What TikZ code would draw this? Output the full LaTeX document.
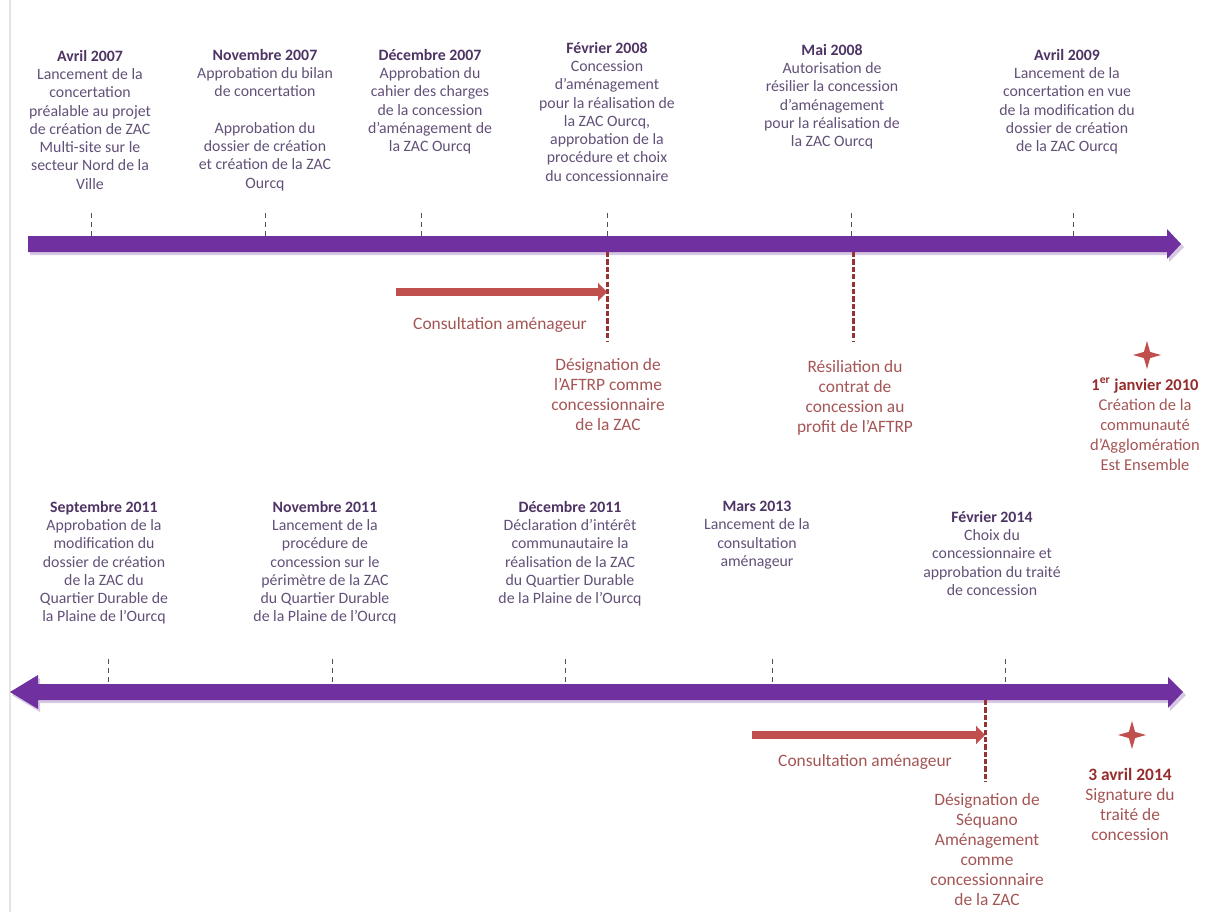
\documentclass[tikz,border=0pt]{standalone}
\usepackage{fontspec}
\setmainfont{Carlito}
\usetikzlibrary{arrows.meta, positioning, shapes.geometric}
\definecolor{tlpurple}{RGB}{112,48,160}
\definecolor{tlshade}{RGB}{214,200,226}
\definecolor{tltitle}{RGB}{78,52,100}
\definecolor{tltext}{RGB}{98,80,120}
\definecolor{tlred}{RGB}{192,80,77}
\definecolor{tldash}{RGB}{150,50,50}
\definecolor{tlredtext}{RGB}{165,85,85}
\definecolor{tlredtitle}{RGB}{150,45,45}
\definecolor{tltick}{RGB}{80,80,90}
\definecolor{tlborder}{RGB}{228,228,228}

\begin{document}
\begin{tikzpicture}[
    x=0.2mm, y=-0.2mm,
    font=\fontsize{9}{10.4}\selectfont,
    % Styles for the two timelines
    event/.style={align=center, text=tltext, inner sep=1pt, anchor=north},
    milestone/.style={align=center, text=tlredtext, inner sep=1pt, anchor=north, font=\fontsize{9.9}{11.4}\selectfont},
    timeline/.style={fill=tlpurple},
    timeshade/.style={fill=tlshade},
    tick/.style={draw=tltick, densely dashed, line width=0.5pt},
    handover/.style={draw=tldash, dash pattern=on 3pt off 1.2pt, line width=1.7pt},
    phase/.style={draw=tlred, line width=4.5pt, -{Triangle[length=5pt, width=10pt]}},
    sparkle/.style={star, star points=4, star point ratio=3.2, fill=tlred, draw=none, minimum size=5.6mm, inner sep=0pt}
]
\useasboundingbox (0,0) rectangle (1205,912);

% left page border
\draw[tlborder, line width=0.8pt] (10,0) -- (10,912);

% ----------------------------------------------------
% Upper timeline (2007 - 2010)
% ----------------------------------------------------
\fill[timeshade] (30,239) -- (1169,239) -- (1169,232) -- (1184,247) -- (1169,262) -- (1169,255) -- (30,255) -- cycle;
\fill[timeline] (28,236) -- (1167,236) -- (1167,229) -- (1181,244) -- (1167,259) -- (1167,252) -- (28,252) -- cycle;
\coordinate (topN) at (0,236);
\coordinate (topS) at (0,252);

\foreach \x/\n in {91/a, 265/b, 421/c, 607/d, 851/e, 1073/f}{
    \coordinate (tk\n) at (\x,213);
    \draw[tick] (tk\n) -- (tk\n |- topN);
}

\node[event] (avr07) at (90,48) {\textcolor{tltitle}{\textbf{Avril 2007}}\\Lancement de la\\concertation\\préalable au projet\\de création de ZAC\\Multi-site sur le\\secteur Nord de la\\Ville};
\node[event] (nov07) at (265,47) {\textcolor{tltitle}{\textbf{Novembre 2007}}\\Approbation du bilan\\de concertation\\[10.4pt]Approbation du\\dossier de création\\et création de la ZAC\\Ourcq};
\node[event] (dec07) at (430,47) {\textcolor{tltitle}{\textbf{Décembre 2007}}\\Approbation du\\cahier des charges\\de la concession\\d’aménagement de\\la ZAC Ourcq};
\node[event] (fev08) at (607,40) {\textcolor{tltitle}{\textbf{Février 2008}}\\Concession\\d’aménagement\\pour la réalisation de\\la ZAC Ourcq,\\approbation de la\\procédure et choix\\du concessionnaire};
\node[event] (mai08) at (832,42) {\textcolor{tltitle}{\textbf{Mai 2008}}\\Autorisation de\\résilier la concession\\d’aménagement\\pour la réalisation de\\la ZAC Ourcq};
\node[event] (avr09) at (1067,47) {\textcolor{tltitle}{\textbf{Avril 2009}}\\Lancement de la\\concertation en vue\\de la modification du\\dossier de création\\de la ZAC Ourcq};

% consultation and handover to the AFTRP
\coordinate (aftrpend) at (607,341);
\coordinate (resilend) at (853,342);
\draw[handover] (aftrpend |- topS) -- (aftrpend);
\draw[handover] (resilend |- topS) -- (resilend);

\coordinate (cons1start) at (396,292);
\draw[phase] (cons1start) -- (cons1start -| aftrpend);
\node[milestone, anchor=center] (cons1) at (500,325) {Consultation aménageur};

\node[milestone] (aftrp) at (608,356) {Désignation de\\l’AFTRP comme\\concessionnaire\\de la ZAC};
\node[milestone] (resil) at (855,358) {Résiliation du\\contrat de\\concession au\\profit de l’AFTRP};

\node[sparkle] (star1) at (1147,355) {};
\node[milestone, font=\fontsize{9.4}{11.4}\selectfont] (jan10) at (1145,376) {\textcolor{tlredtitle}{\textbf{1\textsuperscript{er} janvier 2010}}\\Création de la\\communauté\\d’Agglomération\\Est Ensemble};

% ----------------------------------------------------
% Lower timeline (2011 - 2014)
% ----------------------------------------------------
\fill[timeshade] (12,695) -- (40,678) -- (40,687) -- (1170,687) -- (1170,680) -- (1186,695) -- (1170,711) -- (1170,703) -- (40,703) -- (40,712) -- cycle;
\fill[timeline] (10,692) -- (38,675) -- (38,684) -- (1168,684) -- (1168,677) -- (1183,692) -- (1168,708) -- (1168,700) -- (38,700) -- (38,709) -- cycle;
\coordinate (botN) at (0,684);
\coordinate (botS) at (0,700);

\foreach \x/\n in {108/g, 332/h, 565/i, 772/j, 1005/k}{
    \coordinate (tk\n) at (\x,659);
    \draw[tick] (tk\n) -- (tk\n |- botN);
}

\node[event] (sep11) at (104,499) {\textcolor{tltitle}{\textbf{Septembre 2011}}\\Approbation de la\\modification du\\dossier de création\\de la ZAC du\\Quartier Durable de\\la Plaine de l’Ourcq};
\node[event] (nov11) at (325,499) {\textcolor{tltitle}{\textbf{Novembre 2011}}\\Lancement de la\\procédure de\\concession sur le\\périmètre de la ZAC\\du Quartier Durable\\de la Plaine de l’Ourcq};
\node[event] (dec11) at (570,499) {\textcolor{tltitle}{\textbf{Décembre 2011}}\\Déclaration d’intérêt\\communautaire la\\réalisation de la ZAC\\du Quartier Durable\\de la Plaine de l’Ourcq};
\node[event] (mar13) at (757,499) {\textcolor{tltitle}{\textbf{Mars 2013}}\\Lancement de la\\consultation\\aménageur};
\node[event] (fev14) at (992,509) {\textcolor{tltitle}{\textbf{Février 2014}}\\Choix du\\concessionnaire et\\approbation du traité\\de concession};

% consultation and handover to Séquano
\coordinate (seqend) at (985,782);
\draw[handover] (seqend |- botS) -- (seqend);

\coordinate (cons2start) at (752,735);
\draw[phase] (cons2start) -- (cons2start -| seqend);
\node[milestone, anchor=center] (cons2) at (865,762) {Consultation aménageur};

\node[milestone] (sequano) at (987,791) {Désignation de\\Séquano\\Aménagement\\comme\\concessionnaire\\de la ZAC};

\node[sparkle] (star2) at (1132,735) {};
\node[milestone] (avr14) at (1130,766) {\textcolor{tlredtitle}{\textbf{3 avril 2014}}\\Signature du\\traité de\\concession};

\end{tikzpicture}
\end{document}
